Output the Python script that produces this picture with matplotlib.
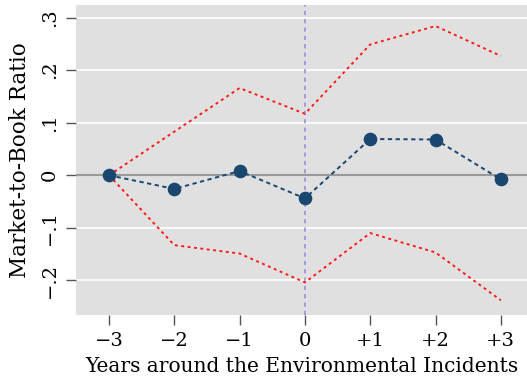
import matplotlib
matplotlib.use("Agg")
import matplotlib.pyplot as plt

# Event-time estimates with 95% confidence bounds
years = [-3, -2, -1, 0, 1, 2, 3]
year_labels = ["\u22123", "\u22122", "\u22121", "0", "+1", "+2", "+3"]
estimate = [0.0, -0.026, 0.008, -0.044, 0.069, 0.068, -0.008]
upper_ci = [0.0, 0.083, 0.166, 0.117, 0.249, 0.284, 0.227]
lower_ci = [0.0, -0.133, -0.149, -0.204, -0.110, -0.147, -0.238]
y_ticks = [-0.2, -0.1, 0.0, 0.1, 0.2, 0.3]
y_tick_labels = ["\u2212.2", "\u2212.1", "0", ".1", ".2", ".3"]

plt.rcParams["font.family"] = ["DejaVu Serif"]

fig = plt.figure(figsize=(5.27, 3.80), dpi=100)
ax = fig.add_axes([76 / 527, 1 - 314.5 / 380, (527 - 76) / 527, (314.5 - 5) / 380])
ax.set_facecolor("#e0e0e0")

ax.set_xlim(-3.505, 3.4)
ax.set_ylim(-0.265, 0.324)

for y in y_ticks:
    if y != 0:
        ax.axhline(y, color="white", lw=1.2, zorder=1)
ax.axhline(0, color="#9a9a9a", lw=1.5, zorder=2)
ax.axvline(0, color="#9b8fd8", lw=1.2, ls=(0, (2.5, 2.5)), zorder=2)

ax.plot(years, upper_ci, color="#ff1a1a", lw=1.4, ls=(0, (1.5, 1.8)), zorder=3)
ax.plot(years, lower_ci, color="#ff1a1a", lw=1.4, ls=(0, (1.5, 1.8)), zorder=3)
ax.plot(years, estimate, color="#1a476f", lw=1.4, ls=(0, (2.2, 1.8)),
        marker="o", ms=8.8, mfc="#1a476f", mec="#1a476f", zorder=4)

for s in ax.spines.values():
    s.set_visible(False)

ax.set_xticks(years)
ax.set_xticklabels(year_labels, fontsize=14)
ax.set_yticks(y_ticks)
ax.set_yticklabels(y_tick_labels, fontsize=14, rotation=90, va="center")
ax.tick_params(axis="both", length=7.5, width=1, color="#555555")
ax.tick_params(axis="x", pad=5)
ax.tick_params(axis="y", pad=5)

ax.set_xlabel("Years around the Environmental Incidents", fontsize=14.5, labelpad=5)
ax.set_ylabel("Market-to-Book Ratio", fontsize=15.5, labelpad=7)

fig.savefig("out.png", dpi=100)
